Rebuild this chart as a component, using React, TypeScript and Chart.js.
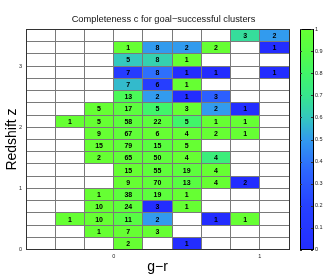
import React, { useEffect, useRef } from 'react';
import { Chart, registerables } from 'chart.js';

Chart.register(...registerables);

const TITLE = 'Completeness c for goal\u2212successful clusters';
const X_TITLE = 'g\u2212r';
const Y_TITLE = 'Redshift z';

const BIN = 0.2;
// lower edges of the g-r bins and redshift bins
const grBins = [-0.6, -0.4, -0.2, 0.0, 0.2, 0.4, 0.6, 0.8, 1.0];
const zBins = [0.0, 0.2, 0.4, 0.6, 0.8, 1.0, 1.2, 1.4, 1.6, 1.8, 2.0, 2.2, 2.4, 2.6, 2.8, 3.0, 3.2, 3.4];

const _ = null;
// number of clusters per cell (rows: z bins from bottom, cols: g-r bins)
const counts: (number | null)[][] = [
  [_, _, _, 2, _, 1, _, _, _],
  [_, _, 1, 7, 3, _, _, _, _],
  [_, 1, 10, 11, 2, _, 1, 1, _],
  [_, _, 10, 24, 3, 1, _, _, _],
  [_, _, 1, 38, 19, 1, _, _, _],
  [_, _, _, 9, 70, 13, 4, 2, _],
  [_, _, _, 15, 55, 19, 4, _, _],
  [_, _, 2, 65, 50, 4, 4, _, _],
  [_, _, 15, 79, 15, 5, _, _, _],
  [_, _, 9, 67, 6, 4, 2, 1, _],
  [_, 1, 5, 58, 22, 5, 1, 1, _],
  [_, _, 5, 17, 5, 3, 2, 1, _],
  [_, _, _, 13, 2, 1, 3, _, _],
  [_, _, _, 7, 6, 1, _, _, _],
  [_, _, _, 7, 8, 1, 1, _, 1],
  [_, _, _, 5, 8, 1, _, _, _],
  [_, _, _, 1, 8, 2, 2, _, 1],
  [_, _, _, _, _, _, _, 3, 2],
];
// completeness per cell
const completeness: (number | null)[][] = [
  [_, _, _, 1, _, 0, _, _, _],
  [_, _, 1, 1, 1, _, _, _, _],
  [_, 1, 1, 0.91, 0.5, _, 0, 1, _],
  [_, _, 1, 0.96, 0, 1, _, _, _],
  [_, _, 1, 0.95, 0.95, 1, _, _, _],
  [_, _, _, 1, 0.97, 0.92, 1, 0, _],
  [_, _, _, 1, 0.96, 0.95, 1, _, _],
  [_, _, 1, 0.97, 0.96, 1, 0.75, _, _],
  [_, _, 1, 0.97, 0.93, 1, _, _, _],
  [_, _, 1, 0.97, 1, 1, 1, 1, _],
  [_, 1, 1, 0.95, 0.95, 0.8, 1, 1, _],
  [_, _, 1, 0.94, 0.8, 1, 0.5, 0, _],
  [_, _, _, 0.85, 0.5, 0, 0.33, _, _],
  [_, _, _, 0.57, 0.17, 1, _, _, _],
  [_, _, _, 0.14, 0.38, 0, 0, _, 0],
  [_, _, _, 0.6, 0.63, 1, _, _, _],
  [_, _, _, 1, 0.5, 0.5, 1, _, 0],
  [_, _, _, _, _, _, _, 0.67, 0.5],
];

const cmapPos = [0, 0.2, 0.35, 0.5, 0.6, 0.7, 0.8, 0.9, 1];
const cmapRGB = [
  [35, 45, 255],
  [38, 65, 255],
  [45, 100, 255],
  [50, 155, 238],
  [52, 200, 190],
  [55, 230, 140],
  [65, 245, 105],
  [85, 252, 70],
  [102, 255, 51],
];

function cmap(v: number): string {
  const t = Math.max(0, Math.min(1, v));
  for (let i = 1; i < cmapPos.length; i++) {
    if (t <= cmapPos[i]) {
      const f = (t - cmapPos[i - 1]) / (cmapPos[i] - cmapPos[i - 1]);
      const a = cmapRGB[i - 1], b = cmapRGB[i];
      const c = a.map((av, k) => Math.round(av + (b[k] - av) * f));
      return `rgb(${c[0]},${c[1]},${c[2]})`;
    }
  }
  const c = cmapRGB[cmapRGB.length - 1];
  return `rgb(${c[0]},${c[1]},${c[2]})`;
}

const FONT = '"Liberation Sans", Arial, Helvetica, sans-serif';

type Cell = { x: number; y: number; n: number; c: number };

function buildCells(): Cell[] {
  const out: Cell[] = [];
  zBins.forEach((z, r) => {
    grBins.forEach((g, k) => {
      const n = counts[r][k];
      const c = completeness[r][k];
      if (n !== null && c !== null) out.push({ x: g + BIN / 2, y: z + BIN / 2, n, c });
    });
  });
  return out;
}

const isInt = (v: number) => Math.abs(v - Math.round(v)) < 1e-6;

export default function App() {
  const ref = useRef<HTMLCanvasElement | null>(null);

  useEffect(() => {
    if (!ref.current) return;
    const cells = buildCells();

    const heatPlugin = {
      id: 'heat',
      beforeDraw(chart: any) {
        const { ctx, chartArea, scales } = chart;
        const xs = scales.x, ys = scales.y, cb = scales.cb;
        ctx.save();
        ctx.fillStyle = '#ffffff';
        ctx.fillRect(chartArea.left, chartArea.top, chartArea.right - chartArea.left, chartArea.bottom - chartArea.top);
        cells.forEach((cell) => {
          const x0 = xs.getPixelForValue(cell.x - BIN / 2);
          const x1 = xs.getPixelForValue(cell.x + BIN / 2);
          const y0 = ys.getPixelForValue(cell.y + BIN / 2);
          const y1 = ys.getPixelForValue(cell.y - BIN / 2);
          ctx.fillStyle = cmap(cell.c);
          ctx.fillRect(x0, y0, x1 - x0, y1 - y0);
        });
        // colorbar
        const bx0 = chartArea.right + 11;
        const bx1 = chartArea.right + 24;
        const top = cb.getPixelForValue(1);
        const bot = cb.getPixelForValue(0);
        for (let py = Math.floor(top); py < Math.ceil(bot); py++) {
          const v = cb.getValueForPixel(py + 0.5);
          ctx.fillStyle = cmap(v);
          ctx.fillRect(bx0, py, bx1 - bx0, 1);
        }
        ctx.restore();
      },
      afterDraw(chart: any) {
        const { ctx, chartArea, scales } = chart;
        const xs = scales.x, ys = scales.y, cb = scales.cb;
        ctx.save();
        // frame
        ctx.strokeStyle = '#333333';
        ctx.lineWidth = 1;
        ctx.strokeRect(Math.round(chartArea.left) + 0.5, Math.round(chartArea.top) + 0.5,
          Math.round(chartArea.right - chartArea.left), Math.round(chartArea.bottom - chartArea.top));
        // numbers
        ctx.fillStyle = '#000000';
        ctx.font = `bold 7px ${FONT}`;
        ctx.textAlign = 'center';
        ctx.textBaseline = 'middle';
        cells.forEach((cell) => {
          ctx.fillText(String(cell.n), xs.getPixelForValue(cell.x), ys.getPixelForValue(cell.y) + 0.5);
        });
        // colorbar frame + ticks
        const bx0 = chartArea.right + 11;
        const bx1 = chartArea.right + 24;
        const top = cb.getPixelForValue(1);
        const bot = cb.getPixelForValue(0);
        ctx.strokeStyle = '#000000';
        ctx.strokeRect(Math.round(bx0) + 0.5, Math.round(top) + 0.5, Math.round(bx1 - bx0), Math.round(bot - top));
        ctx.strokeStyle = '#333333';
        cb.ticks.forEach((t: any) => {
          const py = Math.round(cb.getPixelForValue(t.value)) + 0.5;
          ctx.beginPath();
          ctx.moveTo(bx1 - 2, py);
          ctx.lineTo(bx1, py);
          ctx.moveTo(bx0, py);
          ctx.lineTo(bx0 + 2, py);
          ctx.stroke();
        });
        ctx.restore();
      },
    };

    const chart = new Chart(ref.current, {
      type: 'scatter',
      data: {
        datasets: [
          {
            data: cells.map((c) => ({ x: c.x, y: c.y })),
            pointRadius: 0,
            pointHoverRadius: 0,
            xAxisID: 'x',
            yAxisID: 'y',
          },
        ],
      },
      options: {
        animation: false,
        responsive: false,
        maintainAspectRatio: false,
        devicePixelRatio: 1,
        layout: { padding: 0 },
        events: [],
        plugins: {
          legend: { display: false },
          tooltip: { enabled: false },
          title: {
            display: true,
            text: TITLE,
            color: '#111111',
            font: { family: FONT, size: 9.3, weight: 'normal' },
            padding: { top: 3, bottom: 4 },
          },
        },
        scales: {
          x: {
            type: 'linear',
            position: 'bottom',
            min: -0.6,
            max: 1.2,
            afterFit: (s: any) => { s.height = 26; },
            ticks: {
              stepSize: 0.2,
              autoSkip: false,
              maxRotation: 0,
              padding: 3,
              color: '#222222',
              font: { family: FONT, size: 5.5 },
              callback: (v: any) => (isInt(Number(v)) ? String(Math.round(Number(v))) : ''),
            },
            grid: { display: true, color: '#7a7a7a', lineWidth: 1, drawTicks: false },
            border: { display: true, color: '#333333' },
            title: {
              display: true,
              text: X_TITLE,
              color: '#000000',
              font: { family: FONT, size: 14 },
              padding: { top: 0, bottom: 0 },
            },
          },
          y: {
            type: 'linear',
            position: 'left',
            min: 0,
            max: 3.6,
            afterFit: (s: any) => { s.width = 26; },
            ticks: {
              stepSize: 0.2,
              autoSkip: false,
              padding: 4,
              color: '#222222',
              font: { family: FONT, size: 5.5 },
              callback: (v: any) => (isInt(Number(v)) ? String(Math.round(Number(v))) : ''),
            },
            grid: { display: true, color: '#7a7a7a', lineWidth: 1, drawTicks: false },
            border: { display: true, color: '#333333' },
            title: {
              display: true,
              text: Y_TITLE,
              color: '#000000',
              font: { family: FONT, size: 14 },
              padding: { top: 4, bottom: 0 },
            },
          },
          cb: {
            type: 'linear',
            position: 'right',
            min: 0,
            max: 1,
            afterFit: (s: any) => { s.width = 38; },
            ticks: {
              stepSize: 0.1,
              autoSkip: false,
              padding: 26,
              color: '#222222',
              font: { family: FONT, size: 5.5 },
              callback: (v: any) => String(Math.round(Number(v) * 10) / 10),
            },
            grid: { display: false, drawTicks: false },
            border: { display: false },
          },
        },
      } as any,
      plugins: [heatPlugin],
    });

    return () => {
      chart.destroy();
    };
  }, []);

  return (
    <div style={{ position: 'fixed', left: 0, top: 0, width: 327, height: 279, background: '#ffffff' }}>
      <canvas ref={ref} width={327} height={279} style={{ width: 327, height: 279, display: 'block' }} />
    </div>
  );
}
